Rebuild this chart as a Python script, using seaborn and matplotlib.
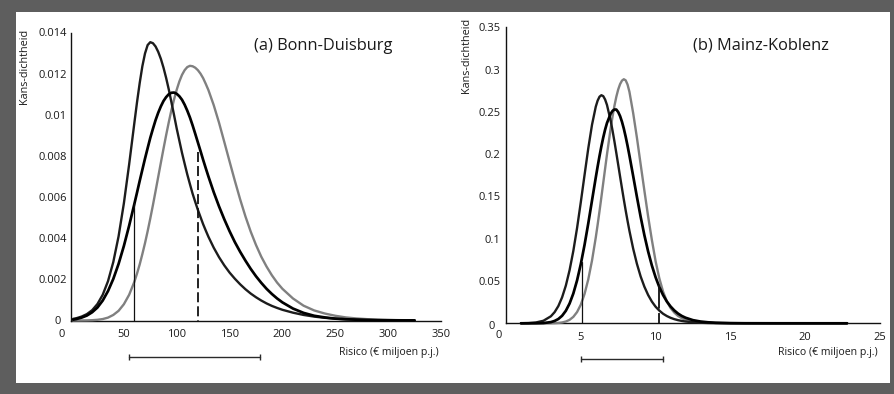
import matplotlib
matplotlib.use("Agg")
import matplotlib.pyplot as plt
import matplotlib.transforms as mtransforms
from matplotlib.patches import Rectangle
import seaborn as sns

# ---------------- data ----------------
# (a) Bonn-Duisburg
risk_a = [2, 5, 10, 15, 20, 25, 30, 35, 40, 45, 50, 55, 60, 62.5, 65, 67.5, 70, 72.5, 75,
          77.5, 80, 82.5, 85, 87.5, 90, 92.5, 95, 97.5, 100, 102.5, 105, 107.5, 110, 112.5,
          115, 117.5, 120, 122.5, 125, 127.5, 130, 135, 140, 145, 150, 155, 160, 165, 170,
          175, 180, 185, 190, 195, 200, 210, 220, 230, 240, 250, 260, 270, 280, 290, 300,
          310, 320, 325]
dens_a_1 = [0.00008, 0.00011, 0.00019, 0.00031, 0.0005, 0.0008, 0.00125, 0.00191, 0.00284,
            0.00409, 0.00569, 0.00759, 0.00963, 0.01063, 0.01155, 0.01236, 0.01298, 0.01339,
            0.01353, 0.01348, 0.01332, 0.01306, 0.01272, 0.01229, 0.01179, 0.01123, 0.01061,
            0.00998, 0.00933, 0.00874, 0.00815, 0.00762, 0.0071, 0.00663, 0.00617, 0.00577,
            0.00538, 0.00503, 0.00468, 0.00437, 0.00407, 0.00354, 0.00308, 0.00268, 0.00233,
            0.00203, 0.00176, 0.00152, 0.00131, 0.00113, 0.00097, 0.00083, 0.00071, 0.00061,
            0.00052, 0.00038, 0.00027, 0.00019, 0.00013, 0.00009, 0.00006, 0.00004, 0.000027,
            0.000018, 0.000012, 0.000008, 0.000005, 0.000004]
dens_a_2 = [0.00004, 0.00007, 0.00014, 0.00024, 0.0004, 0.00063, 0.00097, 0.00143, 0.00202,
            0.00275, 0.00362, 0.00461, 0.00568, 0.00623, 0.00679, 0.00733, 0.00787, 0.00838,
            0.00888, 0.00932, 0.00974, 0.0101, 0.01041, 0.01067, 0.01086, 0.011, 0.01107,
            0.01108, 0.01102, 0.0109, 0.01073, 0.01049, 0.0102, 0.00987, 0.00949, 0.00908,
            0.00866, 0.00824, 0.00781, 0.0074, 0.007, 0.00624, 0.00555, 0.00492, 0.00434,
            0.00381, 0.00334, 0.00291, 0.00251, 0.00215, 0.00183, 0.00154, 0.00129, 0.00107,
            0.00088, 0.00058, 0.00037, 0.00023, 0.00015, 0.00009, 0.00006, 0.00004, 0.000024,
            0.000015, 0.00001, 0.000006, 0.000004, 0.000003]
dens_a_3 = [0.0, 0.0, 0.000002, 0.000006, 0.000015, 0.000034, 0.00007, 0.00014, 0.00027,
            0.00047, 0.00079, 0.00125, 0.00189, 0.00229, 0.00273, 0.00323, 0.00376, 0.00434,
            0.00496, 0.00561, 0.00629, 0.00698, 0.00767, 0.00835, 0.00901, 0.00964, 0.01023,
            0.01075, 0.01122, 0.01162, 0.01194, 0.01217, 0.01232, 0.01238, 0.01236, 0.01229,
            0.01217, 0.012, 0.01178, 0.0115, 0.0112, 0.01047, 0.00962, 0.00868, 0.00773,
            0.00679, 0.00589, 0.00506, 0.00432, 0.00367, 0.0031, 0.00262, 0.0022, 0.00184,
            0.00154, 0.00107, 0.00072, 0.00049, 0.00034, 0.00023, 0.00015, 0.0001, 0.000066,
            0.000043, 0.000028, 0.000018, 0.000012, 0.00001]
vline_a_x = [60, 120]
vline_a_top = [0.0057, 0.0082]
interval_a = [55, 179]
xticks_a = [0, 50, 100, 150, 200, 250, 300, 350]
yticks_a = [0, 0.002, 0.004, 0.006, 0.008, 0.01, 0.012, 0.014]
ylabels_a = ["0", "0.002", "0.004", "0.006", "0.008", "0.01", "0.012", "0.014"]

# (b) Mainz-Koblenz
risk_b = [1, 1.5, 2, 2.5, 3, 3.25, 3.5, 3.75, 4, 4.25, 4.5, 4.75, 5, 5.25, 5.5, 5.75, 6,
          6.125, 6.25, 6.375, 6.5, 6.625, 6.75, 7, 7.125, 7.25, 7.375, 7.5, 7.625, 7.75,
          7.875, 8, 8.125, 8.25,
          8.5, 8.75, 9, 9.25, 9.5, 9.75, 10, 10.25, 10.5, 10.75, 11, 11.25, 11.5, 11.75, 12,
          12.5, 13, 13.5, 14, 15, 16, 18, 20, 22.8]
dens_b_1 = [0.0001, 0.0003, 0.001, 0.003, 0.0083, 0.0132, 0.0204, 0.0307, 0.0446, 0.0628,
            0.0855, 0.1126, 0.1432, 0.1753, 0.2069, 0.2348, 0.2561,
            0.2633, 0.2679, 0.2697, 0.2686, 0.2646, 0.2582, 0.2393, 0.2275, 0.2148, 0.2013,
            0.1875, 0.1736, 0.1599, 0.1464, 0.1334, 0.1211, 0.1094,
            0.0883, 0.0704, 0.0554, 0.0433, 0.0335, 0.0257, 0.0196, 0.015, 0.0113, 0.0086,
            0.0065, 0.0049, 0.0037, 0.0028, 0.0021,
            0.0012, 0.00066, 0.00037, 0.0002, 0.00006, 0.00002, 0.0, 0.0, 0.0]
dens_b_2 = [0.0, 0.0, 0.00006, 0.0003, 0.0014, 0.0028, 0.0051, 0.0089, 0.0148, 0.0234,
            0.0352, 0.0507, 0.07, 0.0927, 0.1182, 0.1453, 0.1723,
            0.1853, 0.1977, 0.2092, 0.2197, 0.229, 0.2368, 0.248, 0.2512, 0.2528, 0.2527,
            0.2498, 0.245, 0.2384, 0.2302, 0.2206, 0.2099, 0.1984,
            0.1742, 0.1496, 0.1259, 0.1042, 0.085, 0.0684, 0.0544, 0.0428, 0.0334, 0.0258,
            0.0199, 0.0152, 0.0115, 0.0087, 0.0066,
            0.0037, 0.0021, 0.0012, 0.00065, 0.0002, 0.00006, 0.00001, 0.0, 0.0]
dens_b_3 = [0.0, 0.0, 0.0, 0.00001, 0.00008, 0.0002, 0.00046, 0.001, 0.0021, 0.0041,
            0.0076, 0.0133, 0.022, 0.0347, 0.052, 0.0743, 0.1014,
            0.1165, 0.1325, 0.1491, 0.166, 0.1829, 0.1997, 0.231, 0.2449, 0.2573, 0.2679,
            0.2765, 0.2828, 0.2869, 0.2886, 0.2873, 0.2823, 0.2738,
            0.2486, 0.2196, 0.188, 0.1569, 0.1264, 0.0986, 0.0734, 0.0531, 0.0374, 0.0261,
            0.0181, 0.0127, 0.0087, 0.0061, 0.0042,
            0.0022, 0.0013, 0.00085, 0.00054, 0.00023, 0.0001, 0.00002, 0.0, 0.0]
vline_b_x = [5.07, 10.24]
vline_b_top = [0.072, 0.045]
interval_b = [5.0, 10.5]
xticks_b = [0, 5, 10, 15, 20, 25]
yticks_b = [0, 0.05, 0.1, 0.15, 0.2, 0.25, 0.3, 0.35]
ylabels_b = ["0", "0.05", "0.1", "0.15", "0.2", "0.25", "0.3", "0.35"]

title_a = "(a) Bonn-Duisburg"
title_b = "(b) Mainz-Koblenz"
ylabel = "Kans-dichtheid"
xlabel = "Risico (€ miljoen p.j.)"

# ---------------- style ----------------
sns.set_style("white")
plt.rcParams["font.family"] = ["Open Sans", "DejaVu Sans"]
plt.rcParams["lines.scale_dashes"] = False
TXT = "#1a1a1a"

W, H = 895, 394
fig = plt.figure(figsize=(W / 100, H / 100), dpi=100)
fig.patch.set_facecolor("#5e5e5e")
fig.patches.append(Rectangle((16 / W, 1 - 383 / H), (890 - 16) / W, (383 - 12) / H,
                             transform=fig.transFigure, facecolor="white",
                             edgecolor="none", zorder=-5))


def px_axes(l, r, t, b):
    return [l / W, 1 - b / H, (r - l) / W, (b - t) / H]


ax_a = fig.add_axes(px_axes(71, 441, 32.5, 320.5))
ax_b = fig.add_axes(px_axes(506, 880, 27.3, 323.3))


def shift(label, dx_px, dy_px):
    off = mtransforms.ScaledTranslation(dx_px / 100, dy_px / 100, fig.dpi_scale_trans)
    label.set_transform(label.get_transform() + off)


def draw_panel(ax, x, d1, d2, d3, vx, vtop, dash, interval, bar_y, xticks, yticks,
               ylabels, xlim, ylim, xpad, ypad, x0_shift, y0_shift):
    ax.patch.set_alpha(0)
    sns.lineplot(x=x, y=d3, ax=ax, color="#808080", lw=1.7, clip_on=False, zorder=3)
    sns.lineplot(x=x, y=d1, ax=ax, color="#1c1c1c", lw=1.7, clip_on=False, zorder=4)
    sns.lineplot(x=x, y=d2, ax=ax, color="#000000", lw=1.95, clip_on=False, zorder=5)
    ax.plot([vx[0], vx[0]], [0, vtop[0]], color="#111111", lw=0.9, zorder=6)
    ax.plot([vx[1], vx[1]], [vtop[1], 0], color="#111111", lw=1.3, zorder=6,
            linestyle=(0, dash))
    ax.plot(interval, [bar_y, bar_y], transform=ax.get_xaxis_transform(), clip_on=False,
            color="#2a2a2a", lw=1.0, marker="|", ms=4.5, mew=1.0)
    ax.set_xlim(*xlim)
    ax.set_ylim(*ylim)
    ax.set_xticks(xticks)
    ax.set_xticklabels([str(t) for t in xticks])
    ax.set_yticks(yticks)
    ax.set_yticklabels(ylabels)
    for s in ("top", "right"):
        ax.spines[s].set_visible(False)
    for s in ("left", "bottom"):
        ax.spines[s].set_color("#111111")
        ax.spines[s].set_linewidth(1.0)
    ax.tick_params(axis="both", direction="in", length=3.2, width=0.8, color="#111111",
                   labelsize=8, labelcolor=TXT)
    ax.tick_params(axis="x", pad=xpad)
    ax.tick_params(axis="y", pad=ypad)
    ax.set_xlabel("")
    ax.set_ylabel("")
    xl = ax.get_xticklabels()
    shift(xl[0], *x0_shift)
    yl = ax.get_yticklabels()
    shift(yl[0], *y0_shift)


draw_panel(ax_a, risk_a, dens_a_1, dens_a_2, dens_a_3, vline_a_x, vline_a_top,
           (7.2, 2.9), interval_a, -0.127, xticks_a, yticks_a, ylabels_a,
           (0, 350), (0, 0.014), 6.3, 2.9, (-9, 0), (-6, 0))
draw_panel(ax_b, risk_b, dens_b_1, dens_b_2, dens_b_3, vline_b_x, vline_b_top,
           (17, 3.2), interval_b, -0.121, xticks_b, yticks_b, ylabels_b,
           (0, 25), (0, 0.35), 6.0, 3.8, (-7.5, 2), (-5.5, -1.7))

# titles, axis labels
fig.text(254 / W, 1 - 45.5 / H, title_a, ha="left", va="center", fontsize=11.8, color=TXT)
fig.text(693 / W, 1 - 45.5 / H, title_b, ha="left", va="center", fontsize=11.8, color=TXT)
fig.text(24.5 / W, 1 - 29 / H, ylabel, rotation=90, ha="center", va="top", fontsize=7.8,
         color=TXT)
fig.text(466.7 / W, 1 - 18 / H, ylabel, rotation=90, ha="center", va="top", fontsize=7.8,
         color=TXT)
fig.text(439 / W, 1 - 352 / H, xlabel, ha="right", va="center", fontsize=7.6, color=TXT)
fig.text(878 / W, 1 - 353 / H, xlabel, ha="right", va="center", fontsize=7.6, color=TXT)

fig.savefig("out.png", dpi=100, facecolor=fig.get_facecolor())
